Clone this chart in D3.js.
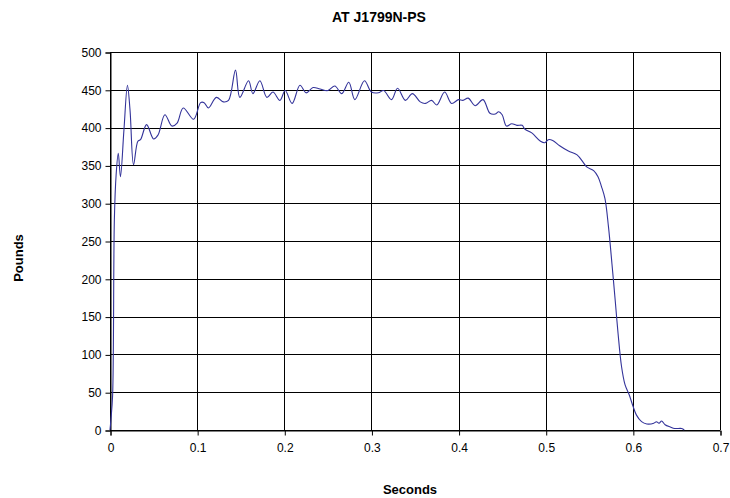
<!DOCTYPE html>
<html>
<head>
<meta charset="utf-8">
<script src="https://cdn.jsdelivr.net/npm/d3@7"></script>
<style>
  body { margin: 0; background: #fff; }
  svg { display: block; font-family: "Liberation Sans", Arial, sans-serif; }
</style>
</head>
<body>
<svg id="chart" width="730" height="498"></svg>
<script>
const title = "AT J1799N-PS";
const xLabel = "Seconds";
const yLabel = "Pounds";
const xTicks = [0, 0.1, 0.2, 0.3, 0.4, 0.5, 0.6, 0.7];
const yTicks = [0, 50, 100, 150, 200, 250, 300, 350, 400, 450, 500];
const seconds = [0, 0.001, 0.003, 0.005, 0.007, 0.0095, 0.012, 0.016, 0.020, 0.023, 0.027, 0.032, 0.035, 0.042, 0.050, 0.055, 0.063, 0.071, 0.077, 0.084, 0.096, 0.104, 0.108, 0.113, 0.122, 0.130, 0.136, 0.144, 0.149, 0.159, 0.164, 0.172, 0.180, 0.187, 0.195, 0.201, 0.209, 0.218, 0.225, 0.233, 0.241, 0.250, 0.258, 0.266, 0.274, 0.281, 0.292, 0.300, 0.308, 0.314, 0.323, 0.330, 0.339, 0.347, 0.356, 0.362, 0.369, 0.375, 0.384, 0.392, 0.400, 0.405, 0.411, 0.419, 0.428, 0.436, 0.442, 0.446, 0.450, 0.455, 0.461, 0.467, 0.473, 0.476, 0.484, 0.494, 0.499, 0.503, 0.508, 0.516, 0.526, 0.536, 0.543, 0.547, 0.555, 0.560, 0.564, 0.568, 0.572, 0.576, 0.580, 0.583, 0.587, 0.591, 0.596, 0.600, 0.604, 0.610, 0.616, 0.624, 0.627, 0.630, 0.633, 0.637, 0.643, 0.648, 0.656, 0.659];
const pounds = [0, 13, 46, 278, 337, 366, 335, 397, 456, 423, 351, 382, 384, 404, 385, 390, 417, 402, 406, 426, 411, 433, 433, 426, 440, 434, 436, 476, 440, 462, 445, 462, 440, 447, 436, 449, 432, 456, 446, 453, 451, 449, 455, 445, 460, 437, 462, 447, 446, 449, 437, 452, 436, 445, 434, 432, 436, 430, 447, 432, 437, 436, 439, 429, 437, 419, 418, 421, 417, 402, 405, 403, 403, 398, 393, 382, 380, 384, 383, 376, 369, 364, 354, 348, 343, 335, 322, 306, 269, 220, 168, 128, 84, 60, 46, 32, 20, 11, 8, 9, 11, 9, 12, 7, 4, 2, 2, 0];

const data = seconds.map((s, i) => ({ s, p: pounds[i] }));

const svg = d3.select("#chart");
const L = 110, R = 720, T = 52, B = 430;

const x = d3.scaleLinear().domain([0, 0.7]).range([L, R]);
const y = d3.scaleLinear().domain([0, 500]).range([B, T]);

// gridlines
svg.append("g").selectAll("line").data(yTicks).join("line")
  .attr("x1", L).attr("x2", R)
  .attr("y1", d => Math.round(y(d)) + 0.5).attr("y2", d => Math.round(y(d)) + 0.5)
  .attr("stroke", "#000").attr("stroke-width", 1);
svg.append("g").selectAll("line").data(xTicks).join("line")
  .attr("y1", T).attr("y2", B)
  .attr("x1", d => Math.round(x(d)) + 0.5).attr("x2", d => Math.round(x(d)) + 0.5)
  .attr("stroke", "#000").attr("stroke-width", 1);

// axes
const yAxis = d3.axisLeft(y).tickValues(yTicks).tickSize(5).tickPadding(4).tickFormat(d3.format("d"));
const xAxis = d3.axisBottom(x).tickValues(xTicks).tickSize(5).tickPadding(8).tickFormat(d => d === 0 ? "0" : d3.format(".1f")(d));

const gy = svg.append("g").attr("transform", `translate(${L + 0.5},0.5)`).call(yAxis);
const gx = svg.append("g").attr("transform", `translate(0.5,${B + 0.5})`).call(xAxis);
[gy, gx].forEach(g => {
  g.selectAll("path").attr("stroke", "#000");
  g.selectAll("line").attr("stroke", "#000");
  g.selectAll("text").attr("font-size", 12).attr("fill", "#000")
    .attr("font-family", "'Liberation Sans', Arial, sans-serif");
});

// line
const line = d3.line().x(d => x(d.s)).y(d => y(d.p)).curve(d3.curveCatmullRom.alpha(0.5));
svg.append("path").datum(data)
  .attr("d", line)
  .attr("fill", "none")
  .attr("stroke", "#33339a")
  .attr("stroke-width", 1.1);

// titles
svg.append("text").attr("x", 379).attr("y", 22).attr("text-anchor", "middle")
  .attr("font-size", 14).attr("font-weight", "bold").text(title);
svg.append("text").attr("x", 410).attr("y", 494).attr("text-anchor", "middle")
  .attr("font-size", 13).attr("font-weight", "bold").text(xLabel);
svg.append("text").attr("transform", "translate(23,258) rotate(-90)").attr("text-anchor", "middle")
  .attr("font-size", 13).attr("font-weight", "bold").text(yLabel);
</script>
</body>
</html>
